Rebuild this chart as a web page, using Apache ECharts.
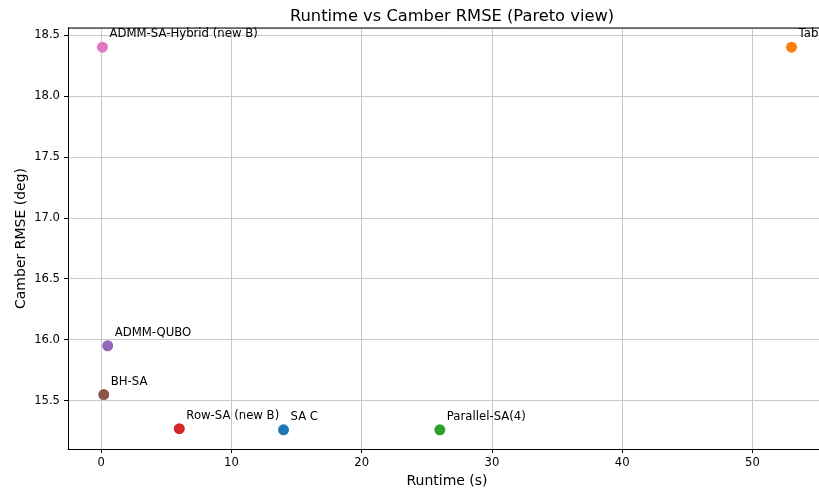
<!DOCTYPE html>
<html>
<head>
<meta charset="utf-8">
<script src="https://cdn.jsdelivr.net/npm/echarts@6/dist/echarts.min.js"></script>
<style>
html,body{margin:0;padding:0;background:#fff;}
#chart{width:819px;height:488px;}
</style>
</head>
<body>
<div id="chart"></div>
<script>
const methods = ["SA C", "Tabu", "Parallel-SA(4)", "Row-SA (new B)", "ADMM-QUBO", "BH-SA", "ADMM-SA-Hybrid (new B)"];
const runtimes = [14.0, 53.0, 26.0, 6.0, 0.5, 0.2, 0.1];
const rmse = [15.26, 18.40, 15.26, 15.27, 15.95, 15.55, 18.40];
const colors = ["#1f77b4", "#ff7f0e", "#2ca02c", "#d62728", "#9467bd", "#8c564b", "#e377c2"];

const xPad = (Math.max(...runtimes) - Math.min(...runtimes)) * 0.05;
const yPad = (Math.max(...rmse) - Math.min(...rmse)) * 0.05;
const font = "DejaVu Sans";

const chart = echarts.init(document.getElementById('chart'), null, {renderer: 'canvas'});
chart.setOption({
  animation: false,
  backgroundColor: '#ffffff',
  title: {
    text: 'Runtime vs Camber RMSE (Pareto view)',
    left: 447, top: 4, textAlign: 'center',
    textStyle: {fontFamily: font, fontSize: 16.3, fontWeight: 'normal', color: '#000'}
  },
  grid: {left: 68, top: 28, bottom: 39, right: -7, containLabel: false, outerBoundsMode: 'none', show: false},
  xAxis: {
    type: 'value',
    min: Math.min(...runtimes) - xPad,
    max: Math.max(...runtimes) + xPad,
    name: 'Runtime (s)', nameLocation: 'middle', nameGap: 25, nameMoveOverlap: false,
    nameTextStyle: {fontFamily: font, fontSize: 14, color: '#000'},
    axisLine: {show: true, onZero: false, lineStyle: {color: '#000', width: 1}},
    axisTick: {show: true, length: 4, lineStyle: {color: '#000', width: 1}},
    axisLabel: {fontFamily: font, fontSize: 11.6, color: '#000', margin: 8,
      showMinLabel: false, showMaxLabel: false,
      formatter: v => (Math.abs(v % 10) < 1e-6 ? String(Math.round(v)) : '')},
    splitLine: {show: true, lineStyle: {color: '#c8c8c8', width: 1}}
  },
  yAxis: {
    type: 'value',
    min: Math.min(...rmse) - yPad,
    max: Math.max(...rmse) + yPad,
    name: 'Camber RMSE (deg)', nameLocation: 'middle', nameGap: 40, nameRotate: 90, nameMoveOverlap: false,
    nameTextStyle: {fontFamily: font, fontSize: 14, color: '#000'},
    axisLine: {show: true, onZero: false, lineStyle: {color: '#000', width: 1}},
    axisTick: {show: true, length: 4, lineStyle: {color: '#000', width: 1}},
    axisLabel: {fontFamily: font, fontSize: 11.6, color: '#000', margin: 8,
      showMinLabel: false, showMaxLabel: false,
      formatter: v => v.toFixed(1)},
    splitLine: {show: true, lineStyle: {color: '#c8c8c8', width: 1}}
  },
  series: [{
    type: 'scatter',
    symbolSize: 11,
    data: methods.map((m, i) => ({
      name: m,
      value: [runtimes[i], rmse[i]],
      itemStyle: {color: colors[i], opacity: 1}
    })),
    label: {
      show: true,
      formatter: p => p.name,
      position: [12.5, -14.5],
      align: 'left', verticalAlign: 'top',
      fontFamily: font, fontSize: 11.7, color: '#000', lineHeight: 14
    },
    z: 3
  }]
});
const topY = chart.convertToPixel({gridIndex: 0}, [0, Math.max(...rmse) + yPad])[1];
chart.setOption({graphic: [{type: 'line', shape: {x1: 68, y1: topY, x2: 819, y2: topY}, style: {stroke: '#000', lineWidth: 1}, z: 10}]});
</script>
</body>
</html>
